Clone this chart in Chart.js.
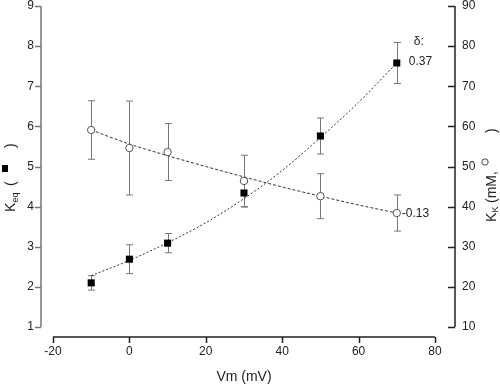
<!DOCTYPE html>
<html>
<head>
<meta charset="utf-8">
<script src="https://cdn.jsdelivr.net/npm/chart.js@4.4.1/dist/chart.umd.min.js"></script>
<style>
  body { margin: 0; background: #fff; }
  canvas { display: block; }
</style>
</head>
<body>
<canvas id="chart" width="500" height="384"></canvas>
<script>
// membrane voltage (mV)
const voltages = [-10, 0, 10, 30, 50, 70];
// K_eq, filled squares, left axis
const keq = [2.1, 2.69, 3.09, 4.34, 5.76, 7.58];
const keqErr = [0.18, 0.36, 0.24, 0.35, 0.45, 0.51];
// K_K (mM), open circles, right axis
const kk = [59.1, 54.6, 53.6, 46.4, 42.6, 38.4];
const kkErr = [7.3, 11.7, 7.1, 6.4, 5.6, 4.5];
// fitted curves
const fitV = [-10, 0, 10, 20, 30, 40, 50, 60, 70];
const keqFit = [2.28, 2.66, 3.1, 3.6, 4.2, 4.9, 5.72, 6.6, 7.58];
const kkFit = [59.1, 55.6, 52.7, 50.0, 47.4, 44.9, 42.6, 40.4, 38.4];
// ticks and labels
const xTicks = [-20, 0, 20, 40, 60, 80];
const leftTicks = [1, 2, 3, 4, 5, 6, 7, 8, 9];
const rightTicks = [10, 20, 30, 40, 50, 60, 70, 80, 90];
const deltaLabels = ["0.37", "-0.13"];

const FONT = "'Liberation Sans', Arial, sans-serif";

const pts = (xs, ys) => xs.map((x, i) => ({ x: x, y: ys[i] }));

// error bars, axes lines and titles are drawn here
const decor = {
  id: "decor",
  beforeDatasetsDraw(chart) {
    const ctx = chart.ctx;
    const x = chart.scales.x, yl = chart.scales.y, yr = chart.scales.y2;
    ctx.save();
    ctx.strokeStyle = "#777";
    ctx.lineWidth = 1;
    const bar = (px, lo, hi) => {
      ctx.beginPath();
      ctx.moveTo(px, lo); ctx.lineTo(px, hi);
      ctx.moveTo(px - 3.5, lo); ctx.lineTo(px + 3.5, lo);
      ctx.moveTo(px - 3.5, hi); ctx.lineTo(px + 3.5, hi);
      ctx.stroke();
    };
    voltages.forEach((v, i) => {
      const px = Math.round(x.getPixelForValue(v)) + 0.5;
      bar(px, yl.getPixelForValue(keq[i] - keqErr[i]), yl.getPixelForValue(keq[i] + keqErr[i]));
      bar(px, yr.getPixelForValue(kk[i] - kkErr[i]), yr.getPixelForValue(kk[i] + kkErr[i]));
    });
    ctx.restore();
  },
  afterDraw(chart) {
    const ctx = chart.ctx;
    const x = chart.scales.x, yl = chart.scales.y, yr = chart.scales.y2;
    const area = chart.chartArea;
    ctx.save();

    // left axis
    ctx.strokeStyle = "#777";
    ctx.lineWidth = 1.5;
    ctx.beginPath();
    ctx.moveTo(area.left, yl.getPixelForValue(leftTicks[0]));
    ctx.lineTo(area.left, yl.getPixelForValue(leftTicks[leftTicks.length - 1]));
    leftTicks.forEach(t => {
      const py = Math.round(yl.getPixelForValue(t)) + 0.5;
      ctx.moveTo(area.left, py); ctx.lineTo(area.left - 6, py);
    });
    ctx.stroke();

    // right axis, ticks inward
    ctx.strokeStyle = "#222";
    ctx.beginPath();
    ctx.moveTo(area.right, yr.getPixelForValue(rightTicks[0]));
    ctx.lineTo(area.right, yr.getPixelForValue(rightTicks[rightTicks.length - 1]));
    rightTicks.forEach(t => {
      const py = Math.round(yr.getPixelForValue(t)) + 0.5;
      ctx.moveTo(area.right, py); ctx.lineTo(area.right - 7, py);
    });
    ctx.stroke();

    // bottom axis
    ctx.beginPath();
    ctx.moveTo(x.getPixelForValue(xTicks[0]), area.bottom);
    ctx.lineTo(x.getPixelForValue(xTicks[xTicks.length - 1]), area.bottom);
    xTicks.forEach(t => {
      const px = Math.round(x.getPixelForValue(t)) + 0.5;
      ctx.moveTo(px, area.bottom); ctx.lineTo(px, area.bottom + 6);
    });
    ctx.stroke();

    ctx.fillStyle = "#222";
    ctx.textBaseline = "alphabetic";

    // x title
    ctx.font = "14px " + FONT;
    ctx.textAlign = "center";
    ctx.fillText("Vm (mV)", (x.getPixelForValue(xTicks[0]) + x.getPixelForValue(xTicks[xTicks.length - 1])) / 2 + 0, 381);

    // left title  K_eq ( ■ )
    ctx.save();
    ctx.translate(15, 212);
    ctx.rotate(-Math.PI / 2);
    ctx.textAlign = "left";
    ctx.font = "14px " + FONT;
    ctx.fillText("K", 0, 0);
    ctx.font = "9px " + FONT;
    ctx.fillText("eq", 9.5, 3);
    ctx.font = "14px " + FONT;
    ctx.fillText("(", 26, 0);
    ctx.fillText(")", 64, 0);
    ctx.fillStyle = "#000";
    ctx.fillRect(40, -13, 7, 6);
    ctx.restore();

    // right title  K_K (mM, ○ )
    ctx.save();
    ctx.translate(496, 222);
    ctx.rotate(-Math.PI / 2);
    ctx.textAlign = "left";
    ctx.font = "14px " + FONT;
    ctx.fillText("K", 0, 0);
    ctx.font = "9px " + FONT;
    ctx.fillText("K", 9.5, 2);
    ctx.font = "14px " + FONT;
    ctx.fillText("(mM,", 19, 0);
    ctx.fillText(")", 89, 0);
    ctx.strokeStyle = "#444";
    ctx.lineWidth = 1;
    ctx.beginPath();
    ctx.arc(60, -11, 3.2, 0, Math.PI * 2);
    ctx.stroke();
    ctx.restore();

    // delta annotations next to the last points
    const last = voltages.length - 1;
    const lx = x.getPixelForValue(voltages[last]);
    const sy = yl.getPixelForValue(keq[last]);
    const cy = yr.getPixelForValue(kk[last]);
    ctx.font = "12px " + FONT;
    ctx.textAlign = "left";
    ctx.textBaseline = "middle";
    ctx.fillText(deltaLabels[0], lx + 12, sy - 1);
    ctx.fillText("\u03b4:", lx + 17, sy - 21);
    ctx.fillText(deltaLabels[1], lx + 5, cy + 1);
    ctx.restore();
  }
};

new Chart(document.getElementById("chart"), {
  data: {
    datasets: [
      {
        type: "scatter",
        label: "Keq",
        data: pts(voltages, keq),
        yAxisID: "y",
        pointStyle: "rect",
        pointRadius: 5,
        pointHoverRadius: 5,
        backgroundColor: "#000",
        borderColor: "#000",
        borderWidth: 0,
        order: 0,
      },
      {
        type: "scatter",
        label: "KK",
        data: pts(voltages, kk),
        yAxisID: "y2",
        pointStyle: "circle",
        pointRadius: 3.7,
        pointHoverRadius: 3.7,
        backgroundColor: "#fff",
        borderColor: "#555",
        borderWidth: 1,
        order: 0,
      },
      {
        type: "line",
        label: "Keq fit",
        data: pts(fitV, keqFit),
        yAxisID: "y",
        borderColor: "#333",
        borderWidth: 1,
        borderDash: [2, 2],
        pointRadius: 0,
        cubicInterpolationMode: "monotone",
        fill: false,
        order: 1,
      },
      {
        type: "line",
        label: "KK fit",
        data: pts(fitV, kkFit),
        yAxisID: "y2",
        borderColor: "#333",
        borderWidth: 1,
        borderDash: [3, 2],
        pointRadius: 0,
        cubicInterpolationMode: "monotone",
        fill: false,
        order: 1,
      },
    ],
  },
  options: {
    responsive: false,
    animation: false,
    layout: { padding: { top: 6, left: 0, right: 0, bottom: 0 } },
    plugins: {
      legend: { display: false },
      tooltip: { enabled: false },
    },
    scales: {
      x: {
        type: "linear",
        min: -23.14,
        max: 85.24,
        grid: { display: false, drawTicks: false },
        border: { display: false },
        afterBuildTicks: (s) => { s.ticks = xTicks.map(v => ({ value: v })); },
        afterFit: (s) => { s.height = 47; s.paddingLeft = 0; s.paddingRight = 0; },
        ticks: { padding: 7, color: "#222", font: { family: FONT, size: 12 } },
      },
      y: {
        type: "linear",
        position: "left",
        min: 0.751,
        max: 9,
        grid: { display: false, drawTicks: false },
        border: { display: false },
        afterBuildTicks: (s) => { s.ticks = leftTicks.map(v => ({ value: v })); },
        afterFit: (s) => { s.width = 41; s.paddingTop = 0; s.paddingBottom = 0; },
        ticks: { padding: 7, color: "#222", font: { family: FONT, size: 12 } },
      },
      y2: {
        type: "linear",
        position: "right",
        min: 7.508,
        max: 90,
        grid: { display: false, drawTicks: false },
        border: { display: false },
        afterBuildTicks: (s) => { s.ticks = rightTicks.map(v => ({ value: v })); },
        afterFit: (s) => { s.width = 45; s.paddingTop = 0; s.paddingBottom = 0; },
        ticks: { padding: 7, color: "#222", font: { family: FONT, size: 12 } },
      },
    },
  },
  plugins: [decor],
});
</script>
</body>
</html>
